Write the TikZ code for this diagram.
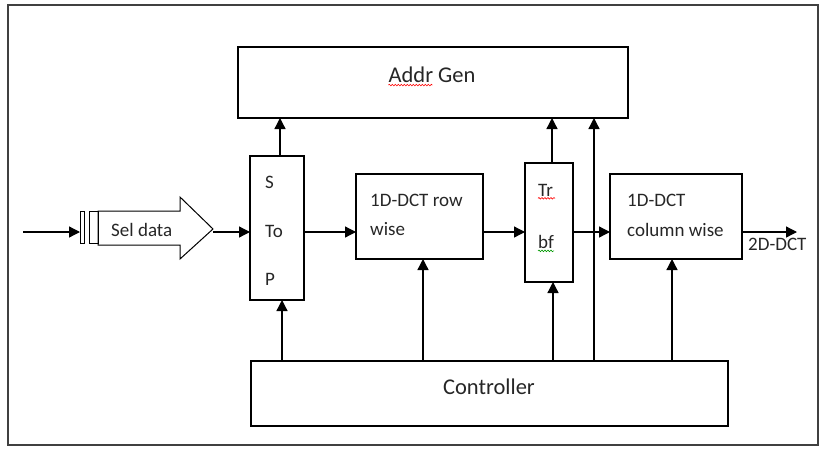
\documentclass[tikz,border=0pt]{standalone}
\usepackage{fontspec}
\setmainfont{Carlito}
\usetikzlibrary{arrows.meta,decorations.pathmorphing}
\begin{document}
\begin{tikzpicture}[x=1pt,y=-1pt,
  box/.style={draw,line width=1.3pt,inner sep=0pt,outer sep=0pt,anchor=north west},
  arr/.style={line width=1.3pt,-{Triangle[length=11pt,width=11pt]}},
  ln/.style={line width=1.3pt},
  txt/.style={font=\fontsize{19}{22}\selectfont,inner sep=0pt,text=black!85},
  bigtxt/.style={font=\fontsize{22.5}{25}\selectfont,inner sep=0pt,text=black!85},
  wavy/.style={decorate,decoration={snake,amplitude=0.8pt,segment length=3pt},line width=0.6pt}]
\useasboundingbox (0,0) rectangle (825,448);
\draw[line width=1.3pt,black!75] (8,5) rectangle (818,445);
% boxes
\node[box,minimum width=390pt,minimum height=71pt] (addr) at (238,47) {};
\node[box,minimum width=54pt,minimum height=144pt] (stop) at (250,156) {};
\node[box,minimum width=127pt,minimum height=85pt] (row) at (356,174) {};
\node[box,minimum width=48pt,minimum height=119pt] (trbf) at (525,163) {};
\node[box,minimum width=132pt,minimum height=85pt] (col) at (610,174) {};
\node[box,minimum width=477pt,minimum height=65pt] (ctrl) at (251,361) {};
% texts
\node[bigtxt] (taddr) at (432,75) {Addr Gen};
\draw[wavy,red] (taddr.south west) ++(0,2) -- ++(44,0);
\node[txt,anchor=west] (ts) at (265,182) {S};
\node[txt,anchor=west] (tto) at (265,231) {To};
\node[txt,anchor=west] (tp) at (265,279) {P};
\node[txt,anchor=west] (trow1) at (370,200) {1D-DCT row};
\node[txt,anchor=west] (trow2) at (370,229) {wise};
\node[txt,anchor=west] (ttr) at (538,190) {Tr};
\draw[wavy,red] (ttr.south west) ++(0,2) -- ++(17,0);
\node[txt,anchor=west] (tbf) at (538,242) {bf};
\draw[wavy,green!60!black] (tbf.south west) ++(0,2) -- ++(16,0);
\node[txt,anchor=west] (tcol1) at (627,200) {1D-DCT};
\node[txt,anchor=west] (tcol2) at (627,230) {column wise};
\node[bigtxt] (tctrl) at (489,387) {Controller};
\node[txt,anchor=west] (tout) at (748,244) {2D-DCT};
% input part
\coordinate (in) at (23,232);
\node[box,minimum width=4pt,minimum height=32pt,line width=1pt] (r1) at (80,211) {};
\node[box,minimum width=9pt,minimum height=32pt,line width=1pt] (r2) at (89,211) {};
\draw[line width=1pt] (98,211) -- (180,211) -- (180,197) -- (213,229) -- (180,259) -- (180,245) -- (98,245) -- cycle;
\coordinate (tip) at (213,232);
\node[txt,anchor=west] (tsel) at (111,230) {Sel data};
\draw[arr] (in) -- (r1.west |- in);
% horizontal arrows
\draw[arr] (tip) -- (stop.west |- tip);
\draw[arr] (stop.east |- tip) -- (row.west |- tip);
\draw[arr] (row.east |- tip) -- (trbf.west |- tip);
\draw[arr] (trbf.east |- tip) -- (col.west |- tip);
\coordinate (out) at (797,232);
\draw[arr] (col.east |- out) -- (out);
% vertical arrows
\draw[arr] ([xshift=3pt]stop.north) -- ([xshift=3pt]stop.north |- addr.south);
\draw[arr] ([xshift=3pt]trbf.north) -- ([xshift=3pt]trbf.north |- addr.south);
\coordinate (c1) at (282,0);
\coordinate (c2) at (423,0);
\coordinate (c3) at (553,0);
\coordinate (c4) at (594,0);
\coordinate (c5) at (672,0);
\draw[arr] (c1 |- ctrl.north) -- (c1 |- stop.south);
\draw[arr] (c2 |- ctrl.north) -- (c2 |- row.south);
\draw[arr] (c3 |- ctrl.north) -- (c3 |- trbf.south);
\draw[arr] (c4 |- ctrl.north) -- (c4 |- addr.south);
\draw[arr] (c5 |- ctrl.north) -- (c5 |- col.south);
\end{tikzpicture}
\end{document}
